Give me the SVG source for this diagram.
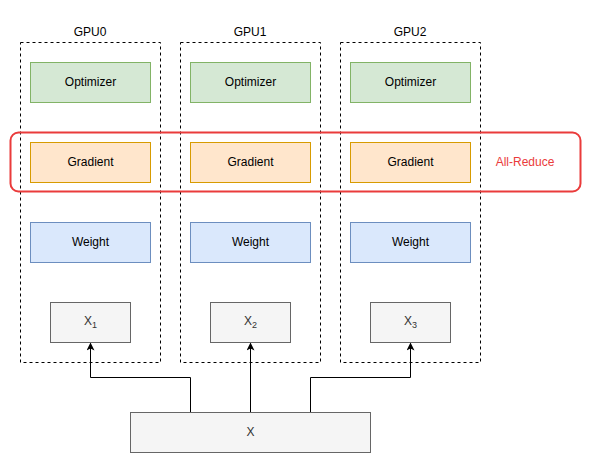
<svg xmlns="http://www.w3.org/2000/svg" width="595" height="465" viewBox="0 0 595 465">
<defs>
<marker id="arr" markerWidth="8" markerHeight="8" refX="7" refY="4" orient="auto" markerUnits="userSpaceOnUse">
<path d="M0,0 L8,4 L0,8 L2,4 Z" fill="#000"/>
</marker>
<style>
text{font-family:"Liberation Sans",Arial,sans-serif;font-size:12px;text-anchor:middle;dominant-baseline:central;fill:#000}
.gpu{fill:none;stroke:#000;stroke-width:1;stroke-dasharray:3 3}
.opt{fill:#d5e8d4;stroke:#82b366}
.grad{fill:#ffe6cc;stroke:#d79b00}
.wt{fill:#dae8fc;stroke:#6c8ebf}
.x{fill:#f5f5f5;stroke:#666666}
.xt{fill:#333333}
.conn{fill:none;stroke:#000;stroke-width:1}
</style>
</defs>
<rect width="595" height="465" fill="#fff"/>
<g id="gpu0">
<rect class="gpu" x="20.5" y="42.5" width="140" height="320"/>
<text x="90" y="32">GPU0</text>
</g>
<g id="gpu1">
<rect class="gpu" x="180.5" y="42.5" width="140" height="320"/>
<text x="250" y="32">GPU1</text>
</g>
<g id="gpu2">
<rect class="gpu" x="340.5" y="42.5" width="140" height="320"/>
<text x="410" y="32">GPU2</text>
</g>
<g id="opt0"><rect class="opt" x="30.5" y="62.5" width="120" height="40"/><text x="90.5" y="82">Optimizer</text></g>
<g id="opt1"><rect class="opt" x="190.5" y="62.5" width="120" height="40"/><text x="250.5" y="82">Optimizer</text></g>
<g id="opt2"><rect class="opt" x="350.5" y="62.5" width="120" height="40"/><text x="410.5" y="82">Optimizer</text></g>
<g id="grad0"><rect class="grad" x="30.5" y="142.5" width="120" height="40"/><text x="90.5" y="162">Gradient</text></g>
<g id="grad1"><rect class="grad" x="190.5" y="142.5" width="120" height="40"/><text x="250.5" y="162">Gradient</text></g>
<g id="grad2"><rect class="grad" x="350.5" y="142.5" width="120" height="40"/><text x="410.5" y="162">Gradient</text></g>
<g id="allreduce">
<rect x="10.5" y="132.5" width="570" height="59" rx="8" fill="none" stroke="#EA3B3B" stroke-width="2"/>
<text x="525" y="162" style="fill:#EA3B3B">All-Reduce</text>
</g>
<g id="wt0"><rect class="wt" x="30.5" y="222.5" width="120" height="40"/><text x="90.5" y="242">Weight</text></g>
<g id="wt1"><rect class="wt" x="190.5" y="222.5" width="120" height="40"/><text x="250.5" y="242">Weight</text></g>
<g id="wt2"><rect class="wt" x="350.5" y="222.5" width="120" height="40"/><text x="410.5" y="242">Weight</text></g>
<g id="x1"><rect class="x" x="50.5" y="302.5" width="80" height="40"/><text class="xt" x="90.5" y="321">X<tspan font-size="9" dy="4">1</tspan></text></g>
<g id="x2"><rect class="x" x="210.5" y="302.5" width="80" height="40"/><text class="xt" x="250.5" y="321">X<tspan font-size="9" dy="4">2</tspan></text></g>
<g id="x3"><rect class="x" x="370.5" y="302.5" width="80" height="40"/><text class="xt" x="410.5" y="321">X<tspan font-size="9" dy="4">3</tspan></text></g>
<g id="x"><rect class="x" x="130.5" y="412.5" width="240" height="40"/><text class="xt" x="250.5" y="432">X</text></g>
<g id="connectors">
<path class="conn" d="M190.5,412 V377.5 H90.5 V343.5" marker-end="url(#arr)"/>
<path class="conn" d="M250.5,412 V343.5" marker-end="url(#arr)"/>
<path class="conn" d="M310.5,412 V377.5 H410.5 V343.5" marker-end="url(#arr)"/>
</g>
</svg>
